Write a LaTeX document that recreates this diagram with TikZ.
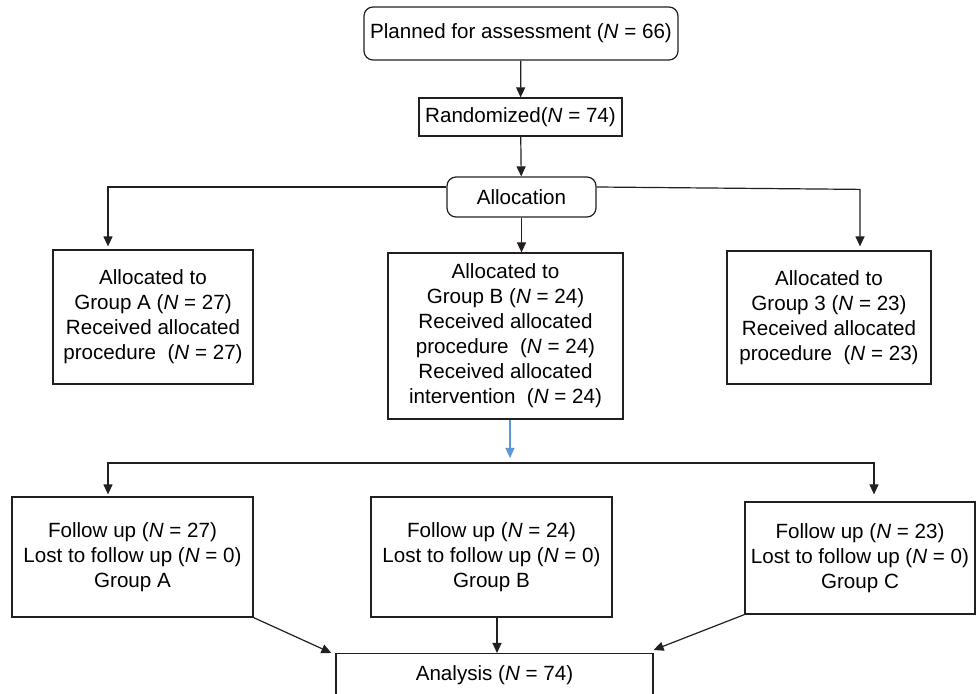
\documentclass[tikz,border=0pt]{standalone}
\usepackage{fontspec}
\setmainfont{Liberation Sans}
\usetikzlibrary{arrows.meta}

\definecolor{ink}{RGB}{35,31,32}
\definecolor{flowblue}{RGB}{91,155,213}

\begin{document}
\begin{tikzpicture}[x=0.5pt, y=-0.5pt, line width=0.6pt,
    font=\fontsize{10.3}{12.5}\selectfont,
    box/.style={draw=ink, align=center, inner sep=0pt},
    roundbox/.style={box, rounded corners=4.5pt},
    arr/.style={draw=ink, -{Triangle[length=5pt,width=4.5pt]}},
    bluearr/.style={draw=flowblue, -{Triangle[length=5pt,width=4.5pt]}}]
\useasboundingbox (0,0) rectangle (976,694);

% enrolment
\node[roundbox, minimum width=157pt, minimum height=26.5pt] (plan) at (521,33.5) {Planned for assessment (\textit{N} = 66)};
\node[box, minimum width=101.5pt, minimum height=19pt] (rand) at (520.5,117) {Randomized(\textit{N} = 74)};
\node[roundbox, minimum width=74.5pt, minimum height=20pt] (alloc) at (521.5,197) {Allocation};

\draw[arr] (plan) -- (rand);
\draw[arr] (rand) -- (alloc);

% allocation
\node[box, minimum width=100pt, minimum height=67pt] (grpA) at (153,317) {Allocated to\\Group A (\textit{N} = 27)\\Received allocated\\procedure~~(\textit{N} = 27)};
\node[box, minimum width=117.5pt, minimum height=83pt] (grpB) at (505.5,336) {Allocated to\\Group B (\textit{N} = 24)\\Received allocated\\procedure~~(\textit{N} = 24)\\Received allocated\\intervention~~(\textit{N} = 24)};
\node[box, minimum width=102pt, minimum height=66.5pt] (grp3) at (829,317.5) {Allocated to\\Group 3 (\textit{N} = 23)\\Received allocated\\procedure~~(\textit{N} = 23)};

\draw[arr] ([yshift=5pt]alloc.west) -| ([xshift=-22.5pt,yshift=1.5pt]grpA.north);
\draw[arr] (alloc.south) -- (alloc.south |- grpB.north);
\draw[arr] ([yshift=5pt]alloc.east) -- ([xshift=15.5pt,yshift=30.5pt]grp3.north) -- ([xshift=15.5pt,yshift=2pt]grp3.north);

% follow up
\node[box, minimum width=120.5pt, minimum height=60pt] (fupA) at (132.5,557) {Follow up (\textit{N} = 27)\\Lost to follow up (\textit{N} = 0)\\Group A};
\node[box, minimum width=120.5pt, minimum height=60pt] (fupB) at (491.5,557) {Follow up (\textit{N} = 24)\\Lost to follow up (\textit{N} = 0)\\Group B};
\node[box, minimum width=115pt, minimum height=56pt] (fupC) at (860,558) {Follow up (\textit{N} = 23)\\Lost to follow up (\textit{N} = 0)\\Group C};

\coordinate (split) at (510,463);
\draw[bluearr] ([xshift=2.25pt]grpB.south) -- ([yshift=2.5pt]split);
\draw[arr] (split) -| ([xshift=-12.25pt,yshift=1pt]fupA.north);
\draw[arr] (split) -| ([xshift=7pt,yshift=3.5pt]fupC.north);

% analysis
\node[box, minimum width=158.5pt, anchor=north, text height=13.7pt, text depth=40pt] (anal) at (494.5,653) {Analysis (\textit{N} = 74)};

\draw[arr] (fupA.south east) -- ([xshift=-2pt]anal.north west);
\draw[arr] ([xshift=2.75pt]fupB.south) -- ([xshift=2.75pt]fupB.south |- anal.north);
\draw[arr] (fupC.south west) -- ([yshift=1.5pt]anal.north east);

\end{tikzpicture}
\end{document}
